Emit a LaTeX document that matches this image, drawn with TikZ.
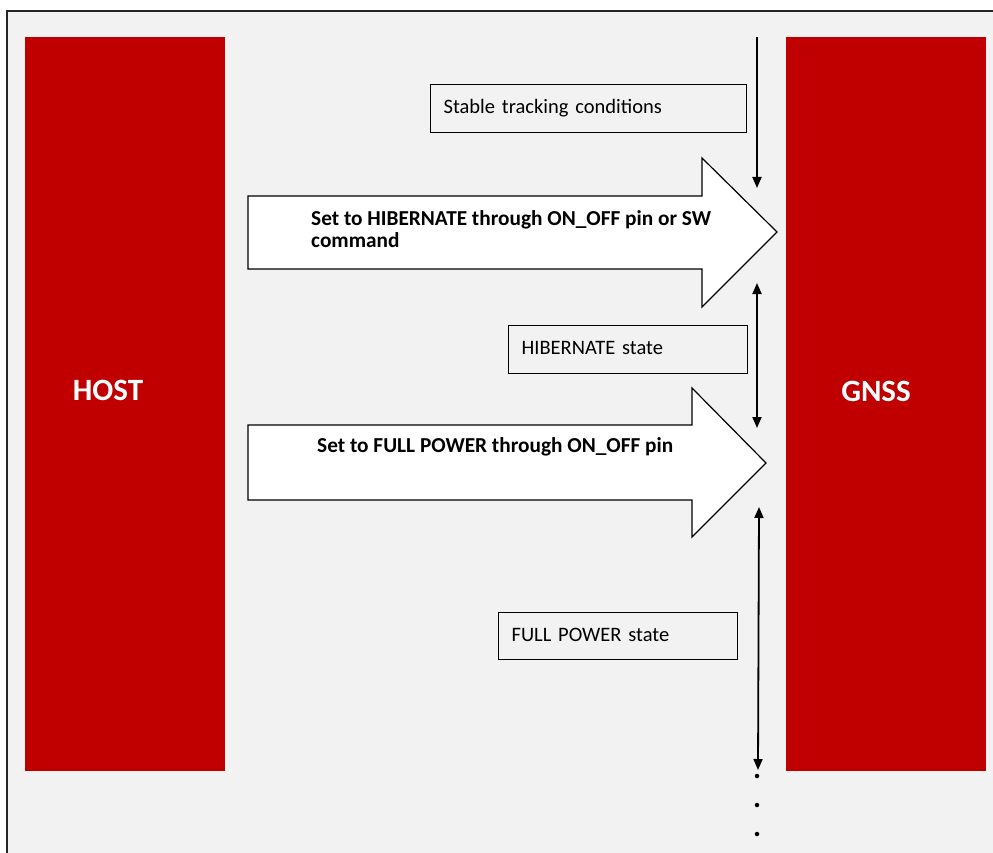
\documentclass[tikz,border=0pt]{standalone}
\usepackage{fontspec}
\setmainfont{Carlito}
\usetikzlibrary{arrows.meta}
\definecolor{panel}{HTML}{F2F2F2}
\definecolor{hostred}{HTML}{C00000}
\tikzset{
  redbox/.style={fill=hostred, draw=none, minimum width=200pt, minimum height=734pt, inner sep=0pt},
  bigtext/.style={text=white, font=\fontsize{31}{37}\selectfont\bfseries, inner sep=0pt},
  statebox/.style={draw=black, line width=1.2pt, fill=panel, inner xsep=13pt, inner ysep=0pt, align=left, font=\fontsize{20.5}{24}\selectfont, anchor=north west},
  bigarrow/.style={draw=black, line width=1.2pt, fill=white},
  arrowtext/.style={font=\fontsize{21.3}{22}\selectfont\bfseries, align=left, inner sep=0pt, anchor=west},
  flow/.style={line width=1.8pt, -{Triangle[width=9pt,length=11pt]}},
  flowboth/.style={line width=1.8pt, {Triangle[width=9pt,length=11pt]}-{Triangle[width=9pt,length=11pt]}},
  dotmark/.style={circle, fill=black, inner sep=0pt, minimum size=4.5pt}
}
\begin{document}
\begin{tikzpicture}[x=1pt,y=-1pt]
\useasboundingbox (0,0) rectangle (993,853);
\clip (0,0) rectangle (993,853);
\fill[white] (0,0) rectangle (993,853);
\fill[panel] (7,11) rectangle (1000,860);
\draw[line width=1.8pt, black!85] (7,870) -- (7,11) -- (1000,11);

% host and gnss
\node[redbox] (host) at (125,404) {};
\node[bigtext] (hostlbl) at (108,390) {HOST};
\node[redbox] (gnss) at (886,404) {};
\node[bigtext] (gnsslbl) at (876,391) {GNSS};

% state boxes
\node[statebox, minimum width=316pt, minimum height=48pt, text width=290pt] (stable) at (430,84) {\raisebox{1pt}{Stable tracking conditions}};
\node[statebox, minimum width=239pt, minimum height=48pt, text width=213pt] (hib) at (508,325) {\raisebox{2.5pt}{HIBERNATE state}};
\node[statebox, minimum width=239pt, minimum height=47pt, text width=213pt] (full) at (498,612) {\raisebox{2.5pt}{FULL POWER state}};

% big arrows
\draw[bigarrow] (248,196) -- (702,196) -- (702,158) -- (777,232) -- (702,307) -- (702,269) -- (248,269) -- cycle;
\node[arrowtext] (hibtxt) at (311,229) {Set to HIBERNATE through ON\_OFF pin or SW\\command};
\draw[bigarrow] (248,425) -- (692,425) -- (692,388) -- (766,463) -- (692,537) -- (692,500) -- (248,500) -- cycle;
\node[arrowtext] (fulltxt) at (317,447) {Set to FULL POWER through ON\_OFF pin};

% vertical timeline arrows
\coordinate (a1s) at (757,37);
\coordinate (a1e) at (757,188);
\coordinate (a2s) at (757,283);
\coordinate (a2e) at (757,428);
\coordinate (a3s) at (759,507);
\coordinate (a3e) at (758,770);
\draw[flow] (a1s) -- (a1e);
\draw[flowboth] (a2s) -- (a2e);
\draw[flowboth] (a3s) -- (a3e);

\node[dotmark] (d1) at (757,776) {};
\node[dotmark] (d2) at (757,805) {};
\node[dotmark] (d3) at (757,834) {};
\end{tikzpicture}
\end{document}
